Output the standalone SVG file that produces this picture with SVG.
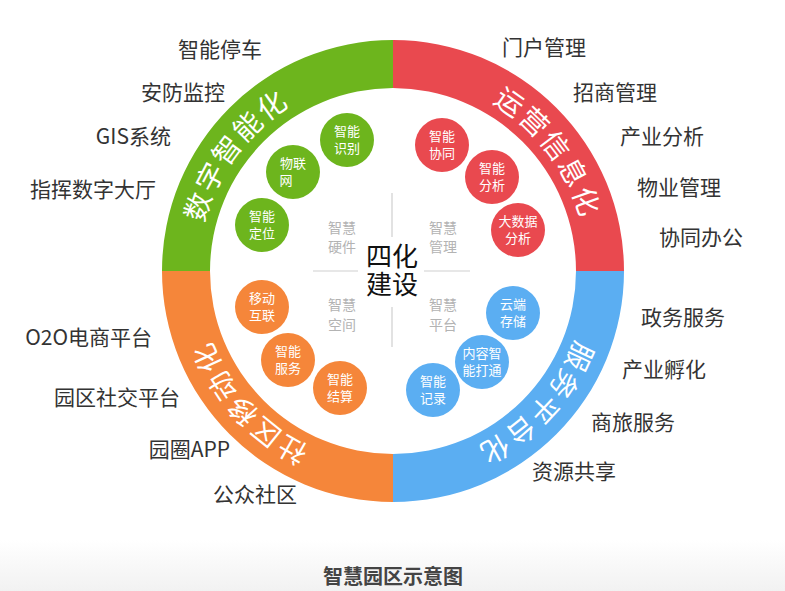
<svg xmlns="http://www.w3.org/2000/svg" width="785" height="591" viewBox="0 0 785 591">
<defs>
<style>
.lbl{font-family:"Noto Sans CJK SC","Liberation Sans",sans-serif;font-size:21px;fill:#333}
.l{text-anchor:end}
.bub{font-family:"Noto Sans CJK SC","Liberation Sans",sans-serif;font-size:13px;fill:#fff;text-anchor:middle}
.gray{font-family:"Noto Sans CJK SC","Liberation Sans",sans-serif;font-size:14px;fill:#b3b3b3;text-anchor:middle}
.ring{font-family:"Noto Sans CJK SC","Liberation Sans",sans-serif;font-size:28px;fill:#fff;letter-spacing:4px;text-anchor:middle;dominant-baseline:central}
.ctr{font-family:"Noto Sans CJK SC","Liberation Sans",sans-serif;font-size:26px;fill:#111;text-anchor:middle}
.g{fill:#6db51d}.r{fill:#e9494f}.o{fill:#f5863a}.b{fill:#5baef2}
.div{stroke:#cfcfcf;stroke-width:1.2}
</style>
<path id="arc" d="M600,271 A207,207 0 1 1 186,271 A207,207 0 1 1 600,271"/>
<linearGradient id="bg" x1="0" y1="0" x2="0" y2="1">
<stop offset="0" stop-color="#ffffff"/>
<stop offset="1" stop-color="#ececec"/>
</linearGradient>
</defs>
<rect width="785" height="591" fill="#fff"/>
<rect x="0" y="540" width="785" height="51" fill="url(#bg)" opacity="0.7"/>

<g id="ring-green">
<path class="g" d="M162,271 A231,231 0 0 1 393,40 L393,88 A183,183 0 0 0 210,271 Z"/>
<text class="ring"><textPath href="#arc" startOffset="782">数字智能化</textPath></text>
</g>
<g id="ring-red">
<path class="r" d="M393,40 A231,231 0 0 1 624,271 L576,271 A183,183 0 0 0 393,88 Z"/>
<text class="ring"><textPath href="#arc" startOffset="1166">运营信息化</textPath></text>
</g>
<g id="ring-blue">
<path class="b" d="M624,271 A231,231 0 0 1 393,502 L393,454 A183,183 0 0 0 576,271 Z"/>
<text class="ring"><textPath href="#arc" startOffset="155">服务平台化</textPath></text>
</g>
<g id="ring-orange">
<path class="o" d="M393,502 A231,231 0 0 1 162,271 L210,271 A183,183 0 0 0 393,454 Z"/>
<text class="ring"><textPath href="#arc" startOffset="497">社区移动化</textPath></text>
</g>

<g id="connectors">
<line class="div" x1="392" y1="193" x2="392" y2="237"/>
<line class="div" x1="392" y1="307" x2="392" y2="347"/>
<line class="div" x1="313" y1="271" x2="358" y2="271"/>
<line class="div" x1="424" y1="271" x2="470" y2="271"/>
</g>

<g id="center">
<text class="ctr" x="392" y="266">四化<tspan x="392" dy="28">建设</tspan></text>
</g>
<g id="q-hardware"><text class="gray" x="342" y="233">智慧<tspan x="342" dy="19">硬件</tspan></text></g>
<g id="q-manage"><text class="gray" x="443" y="233">智慧<tspan x="443" dy="19">管理</tspan></text></g>
<g id="q-space"><text class="gray" x="342" y="310">智慧<tspan x="342" dy="20">空间</tspan></text></g>
<g id="q-platform"><text class="gray" x="443" y="310">智慧<tspan x="443" dy="20">平台</tspan></text></g>

<g id="b-shibie"><circle class="g" cx="347" cy="140" r="27"/><text class="bub" x="347" y="136">智能<tspan x="347" dy="17">识别</tspan></text></g>
<g id="b-wulianwang"><circle class="g" cx="293" cy="172" r="27"/><text class="bub" x="293" y="168">物联<tspan x="286" dy="17">网</tspan></text></g>
<g id="b-dingwei"><circle class="g" cx="262" cy="225" r="27"/><text class="bub" x="262" y="221">智能<tspan x="262" dy="17">定位</tspan></text></g>

<g id="b-xietong"><circle class="r" cx="442" cy="145" r="27"/><text class="bub" x="442" y="141">智能<tspan x="442" dy="17">协同</tspan></text></g>
<g id="b-fenxi"><circle class="r" cx="492" cy="177" r="27"/><text class="bub" x="492" y="173">智能<tspan x="492" dy="17">分析</tspan></text></g>
<g id="b-dashuju"><circle class="r" cx="518" cy="230" r="27"/><text class="bub" x="518" y="226">大数据<tspan x="518" dy="17">分析</tspan></text></g>

<g id="b-yidong"><circle class="o" cx="262" cy="307" r="27"/><text class="bub" x="262" y="303">移动<tspan x="262" dy="17">互联</tspan></text></g>
<g id="b-fuwu"><circle class="o" cx="288" cy="360" r="27"/><text class="bub" x="288" y="356">智能<tspan x="288" dy="17">服务</tspan></text></g>
<g id="b-jiesuan"><circle class="o" cx="340" cy="388" r="27"/><text class="bub" x="340" y="384">智能<tspan x="340" dy="17">结算</tspan></text></g>

<g id="b-cunchu"><circle class="b" cx="513" cy="313" r="27"/><text class="bub" x="513" y="309">云端<tspan x="513" dy="17">存储</tspan></text></g>
<g id="b-datong"><circle class="b" cx="482" cy="362" r="27"/><text class="bub" x="482" y="358">内容智<tspan x="482" dy="17">能打通</tspan></text></g>
<g id="b-jilu"><circle class="b" cx="433" cy="390" r="27"/><text class="bub" x="433" y="386">智能<tspan x="433" dy="17">记录</tspan></text></g>

<g id="labels-left">
<text class="lbl l" x="262" y="57">智能停车</text>
<text class="lbl l" x="225" y="100">安防监控</text>
<text class="lbl l" x="171" y="144">GIS系统</text>
<text class="lbl l" x="156" y="197">指挥数字大厅</text>
<text class="lbl l" x="152" y="345">O2O电商平台</text>
<text class="lbl l" x="180" y="405">园区社交平台</text>
<text class="lbl l" x="230" y="457">园圈APP</text>
<text class="lbl l" x="297" y="502">公众社区</text>
</g>
<g id="labels-right">
<text class="lbl" x="502" y="55">门户管理</text>
<text class="lbl" x="573" y="100">招商管理</text>
<text class="lbl" x="620" y="144">产业分析</text>
<text class="lbl" x="637" y="195">物业管理</text>
<text class="lbl" x="659" y="245">协同办公</text>
<text class="lbl" x="641" y="325">政务服务</text>
<text class="lbl" x="622" y="377">产业孵化</text>
<text class="lbl" x="591" y="430">商旅服务</text>
<text class="lbl" x="532" y="479">资源共享</text>
</g>

<g id="title">
<text x="393" y="584" style="font-family:'Noto Sans CJK SC',sans-serif;font-size:20px;font-weight:bold;fill:#444;text-anchor:middle">智慧园区示意图</text>
</g>
</svg>
